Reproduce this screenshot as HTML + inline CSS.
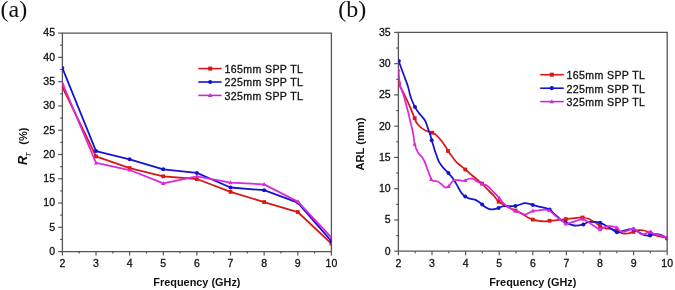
<!DOCTYPE html><html><head><meta charset="utf-8"><style>html,body{margin:0;padding:0;background:#fff;}svg{display:block;will-change:transform}</style></head><body>
<svg width="675" height="290" viewBox="0 0 675 290">
<rect width="675" height="290" fill="#fff"/>
<g font-family='"Liberation Sans", sans-serif'>
<path d="M62.4 33.1 H331.4 V251.6 H62.4 Z" fill="none" stroke="#555555" stroke-width="1.3"/><path d="M58.2 251.6 H62.4" stroke="#555555" stroke-width="1.2"/><text x="55" y="254.95" text-anchor="end" font-size="10.5" fill="#111" stroke="#111" stroke-width="0.3">0</text><path d="M60.2 239.46 H62.4" stroke="#555555" stroke-width="1.2"/><path d="M58.2 227.32 H62.4" stroke="#555555" stroke-width="1.2"/><text x="55" y="230.67" text-anchor="end" font-size="10.5" fill="#111" stroke="#111" stroke-width="0.3">5</text><path d="M60.2 215.18 H62.4" stroke="#555555" stroke-width="1.2"/><path d="M58.2 203.04 H62.4" stroke="#555555" stroke-width="1.2"/><text x="55" y="206.39" text-anchor="end" font-size="10.5" fill="#111" stroke="#111" stroke-width="0.3">10</text><path d="M60.2 190.91 H62.4" stroke="#555555" stroke-width="1.2"/><path d="M58.2 178.77 H62.4" stroke="#555555" stroke-width="1.2"/><text x="55" y="182.12" text-anchor="end" font-size="10.5" fill="#111" stroke="#111" stroke-width="0.3">15</text><path d="M60.2 166.63 H62.4" stroke="#555555" stroke-width="1.2"/><path d="M58.2 154.49 H62.4" stroke="#555555" stroke-width="1.2"/><text x="55" y="157.84" text-anchor="end" font-size="10.5" fill="#111" stroke="#111" stroke-width="0.3">20</text><path d="M60.2 142.35 H62.4" stroke="#555555" stroke-width="1.2"/><path d="M58.2 130.21 H62.4" stroke="#555555" stroke-width="1.2"/><text x="55" y="133.56" text-anchor="end" font-size="10.5" fill="#111" stroke="#111" stroke-width="0.3">25</text><path d="M60.2 118.07 H62.4" stroke="#555555" stroke-width="1.2"/><path d="M58.2 105.93 H62.4" stroke="#555555" stroke-width="1.2"/><text x="55" y="109.28" text-anchor="end" font-size="10.5" fill="#111" stroke="#111" stroke-width="0.3">30</text><path d="M60.2 93.79 H62.4" stroke="#555555" stroke-width="1.2"/><path d="M58.2 81.66 H62.4" stroke="#555555" stroke-width="1.2"/><text x="55" y="85.01" text-anchor="end" font-size="10.5" fill="#111" stroke="#111" stroke-width="0.3">35</text><path d="M60.2 69.52 H62.4" stroke="#555555" stroke-width="1.2"/><path d="M58.2 57.38 H62.4" stroke="#555555" stroke-width="1.2"/><text x="55" y="60.73" text-anchor="end" font-size="10.5" fill="#111" stroke="#111" stroke-width="0.3">40</text><path d="M60.2 45.24 H62.4" stroke="#555555" stroke-width="1.2"/><path d="M58.2 33.1 H62.4" stroke="#555555" stroke-width="1.2"/><text x="55" y="36.45" text-anchor="end" font-size="10.5" fill="#111" stroke="#111" stroke-width="0.3">45</text><path d="M62.4 251.6 V255.6" stroke="#555555" stroke-width="1.2"/><text x="62.4" y="267.3" text-anchor="middle" font-size="10.5" fill="#111" stroke="#111" stroke-width="0.3">2</text><path d="M79.21 251.6 V253.6" stroke="#555555" stroke-width="1.2"/><path d="M96.03 251.6 V255.6" stroke="#555555" stroke-width="1.2"/><text x="96.03" y="267.3" text-anchor="middle" font-size="10.5" fill="#111" stroke="#111" stroke-width="0.3">3</text><path d="M112.84 251.6 V253.6" stroke="#555555" stroke-width="1.2"/><path d="M129.65 251.6 V255.6" stroke="#555555" stroke-width="1.2"/><text x="129.65" y="267.3" text-anchor="middle" font-size="10.5" fill="#111" stroke="#111" stroke-width="0.3">4</text><path d="M146.46 251.6 V253.6" stroke="#555555" stroke-width="1.2"/><path d="M163.28 251.6 V255.6" stroke="#555555" stroke-width="1.2"/><text x="163.28" y="267.3" text-anchor="middle" font-size="10.5" fill="#111" stroke="#111" stroke-width="0.3">5</text><path d="M180.09 251.6 V253.6" stroke="#555555" stroke-width="1.2"/><path d="M196.9 251.6 V255.6" stroke="#555555" stroke-width="1.2"/><text x="196.9" y="267.3" text-anchor="middle" font-size="10.5" fill="#111" stroke="#111" stroke-width="0.3">6</text><path d="M213.71 251.6 V253.6" stroke="#555555" stroke-width="1.2"/><path d="M230.53 251.6 V255.6" stroke="#555555" stroke-width="1.2"/><text x="230.53" y="267.3" text-anchor="middle" font-size="10.5" fill="#111" stroke="#111" stroke-width="0.3">7</text><path d="M247.34 251.6 V253.6" stroke="#555555" stroke-width="1.2"/><path d="M264.15 251.6 V255.6" stroke="#555555" stroke-width="1.2"/><text x="264.15" y="267.3" text-anchor="middle" font-size="10.5" fill="#111" stroke="#111" stroke-width="0.3">8</text><path d="M280.96 251.6 V253.6" stroke="#555555" stroke-width="1.2"/><path d="M297.77 251.6 V255.6" stroke="#555555" stroke-width="1.2"/><text x="297.77" y="267.3" text-anchor="middle" font-size="10.5" fill="#111" stroke="#111" stroke-width="0.3">9</text><path d="M314.59 251.6 V253.6" stroke="#555555" stroke-width="1.2"/><path d="M331.4 251.6 V255.6" stroke="#555555" stroke-width="1.2"/><text x="331.4" y="267.3" text-anchor="middle" font-size="10.5" fill="#111" stroke="#111" stroke-width="0.3">10</text>
<path d="M398.4 32.4 H667.2 V251.2 H398.4 Z" fill="none" stroke="#555555" stroke-width="1.3"/><path d="M394.2 251.2 H398.4" stroke="#555555" stroke-width="1.2"/><text x="390.6" y="254.55" text-anchor="end" font-size="10.5" fill="#111" stroke="#111" stroke-width="0.3">0</text><path d="M396.2 235.57 H398.4" stroke="#555555" stroke-width="1.2"/><path d="M394.2 219.94 H398.4" stroke="#555555" stroke-width="1.2"/><text x="390.6" y="223.29" text-anchor="end" font-size="10.5" fill="#111" stroke="#111" stroke-width="0.3">5</text><path d="M396.2 204.31 H398.4" stroke="#555555" stroke-width="1.2"/><path d="M394.2 188.69 H398.4" stroke="#555555" stroke-width="1.2"/><text x="390.6" y="192.04" text-anchor="end" font-size="10.5" fill="#111" stroke="#111" stroke-width="0.3">10</text><path d="M396.2 173.06 H398.4" stroke="#555555" stroke-width="1.2"/><path d="M394.2 157.43 H398.4" stroke="#555555" stroke-width="1.2"/><text x="390.6" y="160.78" text-anchor="end" font-size="10.5" fill="#111" stroke="#111" stroke-width="0.3">15</text><path d="M396.2 141.8 H398.4" stroke="#555555" stroke-width="1.2"/><path d="M394.2 126.17 H398.4" stroke="#555555" stroke-width="1.2"/><text x="390.6" y="129.52" text-anchor="end" font-size="10.5" fill="#111" stroke="#111" stroke-width="0.3">20</text><path d="M396.2 110.54 H398.4" stroke="#555555" stroke-width="1.2"/><path d="M394.2 94.91 H398.4" stroke="#555555" stroke-width="1.2"/><text x="390.6" y="98.26" text-anchor="end" font-size="10.5" fill="#111" stroke="#111" stroke-width="0.3">25</text><path d="M396.2 79.29 H398.4" stroke="#555555" stroke-width="1.2"/><path d="M394.2 63.66 H398.4" stroke="#555555" stroke-width="1.2"/><text x="390.6" y="67.01" text-anchor="end" font-size="10.5" fill="#111" stroke="#111" stroke-width="0.3">30</text><path d="M396.2 48.03 H398.4" stroke="#555555" stroke-width="1.2"/><path d="M394.2 32.4 H398.4" stroke="#555555" stroke-width="1.2"/><text x="390.6" y="35.75" text-anchor="end" font-size="10.5" fill="#111" stroke="#111" stroke-width="0.3">35</text><path d="M398.4 251.2 V255.2" stroke="#555555" stroke-width="1.2"/><text x="398.4" y="266.9" text-anchor="middle" font-size="10.5" fill="#111" stroke="#111" stroke-width="0.3">2</text><path d="M415.2 251.2 V253.2" stroke="#555555" stroke-width="1.2"/><path d="M432 251.2 V255.2" stroke="#555555" stroke-width="1.2"/><text x="432" y="266.9" text-anchor="middle" font-size="10.5" fill="#111" stroke="#111" stroke-width="0.3">3</text><path d="M448.8 251.2 V253.2" stroke="#555555" stroke-width="1.2"/><path d="M465.6 251.2 V255.2" stroke="#555555" stroke-width="1.2"/><text x="465.6" y="266.9" text-anchor="middle" font-size="10.5" fill="#111" stroke="#111" stroke-width="0.3">4</text><path d="M482.4 251.2 V253.2" stroke="#555555" stroke-width="1.2"/><path d="M499.2 251.2 V255.2" stroke="#555555" stroke-width="1.2"/><text x="499.2" y="266.9" text-anchor="middle" font-size="10.5" fill="#111" stroke="#111" stroke-width="0.3">5</text><path d="M516 251.2 V253.2" stroke="#555555" stroke-width="1.2"/><path d="M532.8 251.2 V255.2" stroke="#555555" stroke-width="1.2"/><text x="532.8" y="266.9" text-anchor="middle" font-size="10.5" fill="#111" stroke="#111" stroke-width="0.3">6</text><path d="M549.6 251.2 V253.2" stroke="#555555" stroke-width="1.2"/><path d="M566.4 251.2 V255.2" stroke="#555555" stroke-width="1.2"/><text x="566.4" y="266.9" text-anchor="middle" font-size="10.5" fill="#111" stroke="#111" stroke-width="0.3">7</text><path d="M583.2 251.2 V253.2" stroke="#555555" stroke-width="1.2"/><path d="M600 251.2 V255.2" stroke="#555555" stroke-width="1.2"/><text x="600" y="266.9" text-anchor="middle" font-size="10.5" fill="#111" stroke="#111" stroke-width="0.3">8</text><path d="M616.8 251.2 V253.2" stroke="#555555" stroke-width="1.2"/><path d="M633.6 251.2 V255.2" stroke="#555555" stroke-width="1.2"/><text x="633.6" y="266.9" text-anchor="middle" font-size="10.5" fill="#111" stroke="#111" stroke-width="0.3">9</text><path d="M650.4 251.2 V253.2" stroke="#555555" stroke-width="1.2"/><path d="M667.2 251.2 V255.2" stroke="#555555" stroke-width="1.2"/><text x="667.2" y="266.9" text-anchor="middle" font-size="10.5" fill="#111" stroke="#111" stroke-width="0.3">10</text>
</g>
<defs><clipPath id="ca"><rect x="62.4" y="33.1" width="269" height="218.5"/></clipPath><clipPath id="cb"><rect x="398.4" y="32.4" width="268.8" height="218.8"/></clipPath></defs>
<g clip-path="url(#ca)">
<polyline points="62.4,87 96.03,156.43 129.65,168.08 163.28,176.34 196.9,179.01 230.53,191.88 264.15,202.07 297.77,212.03 331.4,243.59" fill="none" stroke="#d81818" stroke-width="1.8" stroke-linejoin="round"/><rect x="60.5" y="85.1" width="3.8" height="3.8" fill="#d81818"/><rect x="94.12" y="154.53" width="3.8" height="3.8" fill="#d81818"/><rect x="127.75" y="166.18" width="3.8" height="3.8" fill="#d81818"/><rect x="161.38" y="174.44" width="3.8" height="3.8" fill="#d81818"/><rect x="195" y="177.11" width="3.8" height="3.8" fill="#d81818"/><rect x="228.62" y="189.98" width="3.8" height="3.8" fill="#d81818"/><rect x="262.25" y="200.17" width="3.8" height="3.8" fill="#d81818"/><rect x="295.88" y="210.13" width="3.8" height="3.8" fill="#d81818"/><rect x="329.5" y="241.69" width="3.8" height="3.8" fill="#d81818"/>
<polyline points="62.4,68.06 96.03,151.09 129.65,159.34 163.28,169.3 196.9,172.94 230.53,187.51 264.15,190.18 297.77,202.56 331.4,241.16" fill="none" stroke="#1414d0" stroke-width="1.8" stroke-linejoin="round"/><circle cx="62.4" cy="68.06" r="2" fill="#1414d0"/><circle cx="96.03" cy="151.09" r="2" fill="#1414d0"/><circle cx="129.65" cy="159.34" r="2" fill="#1414d0"/><circle cx="163.28" cy="169.3" r="2" fill="#1414d0"/><circle cx="196.9" cy="172.94" r="2" fill="#1414d0"/><circle cx="230.53" cy="187.51" r="2" fill="#1414d0"/><circle cx="264.15" cy="190.18" r="2" fill="#1414d0"/><circle cx="297.77" cy="202.56" r="2" fill="#1414d0"/><circle cx="331.4" cy="241.16" r="2" fill="#1414d0"/>
<polyline points="62.4,83.11 96.03,162.99 129.65,170.03 163.28,183.38 196.9,176.34 230.53,182.65 264.15,184.35 297.77,201.59 331.4,237.52" fill="none" stroke="#dc28dc" stroke-width="1.8" stroke-linejoin="round"/><path d="M62.4 80.83 L64.49 84.71 L60.31 84.71 Z" fill="#dc28dc"/><path d="M96.03 160.71 L98.12 164.58 L93.94 164.58 Z" fill="#dc28dc"/><path d="M129.65 167.75 L131.74 171.62 L127.56 171.62 Z" fill="#dc28dc"/><path d="M163.28 181.1 L165.37 184.98 L161.19 184.98 Z" fill="#dc28dc"/><path d="M196.9 174.06 L198.99 177.93 L194.81 177.93 Z" fill="#dc28dc"/><path d="M230.53 180.37 L232.62 184.25 L228.44 184.25 Z" fill="#dc28dc"/><path d="M264.15 182.07 L266.24 185.95 L262.06 185.95 Z" fill="#dc28dc"/><path d="M297.77 199.31 L299.86 203.18 L295.69 203.18 Z" fill="#dc28dc"/><path d="M331.4 235.24 L333.49 239.11 L329.31 239.11 Z" fill="#dc28dc"/>
</g>
<g clip-path="url(#cb)">
<path d="M398.6 83.8 C399 84.5 400.02 86.13 401 88 C401.98 89.87 403.05 91.97 404.5 95 C405.95 98.03 408.03 102.37 409.7 106.2 C411.37 110.03 413.27 115.1 414.5 118 C415.73 120.9 415.95 121.95 417.1 123.6 C418.25 125.25 419.82 126.67 421.4 127.9 C422.98 129.13 424.8 130.2 426.6 131 C428.4 131.8 430.63 132.07 432.2 132.7 C433.77 133.33 434.53 133.55 436 134.8 C437.47 136.05 439.45 138.3 441 140.2 C442.55 142.1 444.13 144.4 445.3 146.2 C446.47 148 447.05 149.53 448 151 C448.95 152.47 449.63 153.18 451 155 C452.37 156.82 453.82 159.48 456.2 161.9 C458.58 164.32 462.63 167.23 465.3 169.5 C467.97 171.77 470.18 173.78 472.2 175.5 C474.22 177.22 475.75 178.45 477.4 179.8 C479.05 181.15 480.47 182.03 482.1 183.6 C483.73 185.17 485.33 187.27 487.2 189.2 C489.07 191.13 491.4 193.13 493.3 195.2 C495.2 197.27 496.7 199.92 498.6 201.6 C500.5 203.28 502.53 204.1 504.7 205.3 C506.87 206.5 509.45 207.78 511.6 208.8 C513.75 209.82 515.45 210.32 517.6 211.4 C519.75 212.48 522.7 214.23 524.5 215.3 C526.3 216.37 527.02 217.08 528.4 217.8 C529.78 218.52 531.07 219.1 532.8 219.6 C534.53 220.1 536.93 220.52 538.8 220.8 C540.67 221.08 542.2 221.3 544 221.3 C545.8 221.3 547.73 220.95 549.6 220.8 C551.47 220.65 553.27 220.6 555.2 220.4 C557.13 220.2 559.43 219.82 561.2 219.6 C562.97 219.38 563.97 219.3 565.8 219.1 C567.63 218.9 569.4 218.67 572.2 218.4 C575 218.13 579.87 217.43 582.6 217.5 C585.33 217.57 586.88 218.15 588.6 218.8 C590.32 219.45 591.78 220.82 592.9 221.4 C594.02 221.98 594.1 221.5 595.3 222.3 C596.5 223.1 598.37 225.18 600.1 226.2 C601.83 227.22 603.9 227.97 605.7 228.4 C607.5 228.83 609.03 228.42 610.9 228.8 C612.77 229.18 615.07 229.98 616.9 230.7 C618.73 231.42 620.07 232.63 621.9 233.1 C623.73 233.57 625.97 233.72 627.9 233.5 C629.83 233.28 631.63 232.37 633.5 231.8 C635.37 231.23 637.3 230.32 639.1 230.1 C640.9 229.88 642.5 230.07 644.3 230.5 C646.1 230.93 648.12 231.92 649.9 232.7 C651.68 233.48 653.75 234.68 655 235.2 C656.25 235.72 656 235.48 657.4 235.8 C658.8 236.12 661.73 236.7 663.4 237.1 C665.07 237.5 666.73 238.02 667.4 238.2" fill="none" stroke="#d81818" stroke-width="1.75" stroke-linejoin="round"/><rect x="397" y="81.7" width="3.8" height="3.8" fill="#d81818"/><rect x="412.8" y="116.3" width="3.8" height="3.8" fill="#d81818"/><rect x="430.3" y="130.8" width="3.8" height="3.8" fill="#d81818"/><rect x="446.1" y="149.1" width="3.8" height="3.8" fill="#d81818"/><rect x="463.4" y="167.6" width="3.8" height="3.8" fill="#d81818"/><rect x="480.2" y="181.7" width="3.8" height="3.8" fill="#d81818"/><rect x="496.7" y="199.7" width="3.8" height="3.8" fill="#d81818"/><rect x="513.6" y="208.6" width="3.8" height="3.8" fill="#d81818"/><rect x="530.9" y="217.7" width="3.8" height="3.8" fill="#d81818"/><rect x="547.7" y="218.9" width="3.8" height="3.8" fill="#d81818"/><rect x="563.9" y="217.2" width="3.8" height="3.8" fill="#d81818"/><rect x="580.7" y="215.6" width="3.8" height="3.8" fill="#d81818"/><rect x="598.2" y="224.3" width="3.8" height="3.8" fill="#d81818"/><rect x="615" y="228.8" width="3.8" height="3.8" fill="#d81818"/><rect x="631.6" y="229.9" width="3.8" height="3.8" fill="#d81818"/><rect x="648.1" y="230.8" width="3.8" height="3.8" fill="#d81818"/><rect x="665.3" y="236.3" width="3.8" height="3.8" fill="#d81818"/>
<path d="M398.6 61 C398.87 61.72 399.65 63.85 400.2 65.3 C400.75 66.75 401.33 68.17 401.9 69.7 C402.47 71.23 402.6 71.75 403.6 74.5 C404.6 77.25 406.82 82.78 407.9 86.2 C408.98 89.62 409.38 92.53 410.1 95 C410.82 97.47 411.38 98.98 412.2 101 C413.02 103.02 413.98 105.23 415 107.1 C416.02 108.97 417.3 110.8 418.3 112.2 C419.3 113.6 419.83 114.03 421 115.5 C422.17 116.97 424.17 118.93 425.3 121 C426.43 123.07 427.02 125.73 427.8 127.9 C428.58 130.07 429.35 131.98 430 134 C430.65 136.02 430.93 137.38 431.7 140 C432.47 142.62 433.82 147.2 434.6 149.7 C435.38 152.2 435.67 152.97 436.4 155 C437.13 157.03 437.85 159.75 439 161.9 C440.15 164.05 441.73 166.03 443.3 167.9 C444.87 169.77 446.85 171.42 448.4 173.1 C449.95 174.78 451.18 176.03 452.6 178 C454.02 179.97 455.63 182.73 456.9 184.9 C458.17 187.07 459.15 189.33 460.2 191 C461.25 192.67 462.35 193.97 463.2 194.9 C464.05 195.83 464.37 196.02 465.3 196.6 C466.23 197.18 467.22 197.88 468.8 198.4 C470.38 198.92 473.22 199.2 474.8 199.7 C476.38 200.2 477.07 200.62 478.3 201.4 C479.53 202.18 481.05 203.47 482.2 204.4 C483.35 205.33 483.98 206.22 485.2 207 C486.42 207.78 487.98 208.73 489.5 209.1 C491.02 209.47 492.78 209.4 494.3 209.2 C495.82 209 497.02 208.4 498.6 207.9 C500.18 207.4 501.93 206.48 503.8 206.2 C505.67 205.92 507.87 206.23 509.8 206.2 C511.73 206.17 513.67 206.28 515.4 206 C517.13 205.72 518.68 204.97 520.2 204.5 C521.72 204.03 522.92 203.32 524.5 203.2 C526.08 203.08 528.32 203.52 529.7 203.8 C531.08 204.08 531.28 204.43 532.8 204.9 C534.32 205.37 536.8 206.1 538.8 206.6 C540.8 207.1 543 207.4 544.8 207.9 C546.6 208.4 548.17 208.73 549.6 209.6 C551.03 210.47 552.03 211.87 553.4 213.1 C554.77 214.33 556.35 215.72 557.8 217 C559.25 218.28 560.85 219.9 562.1 220.8 C563.35 221.7 563.9 221.8 565.3 222.4 C566.7 223 568.77 223.85 570.5 224.4 C572.23 224.95 573.55 225.7 575.7 225.7 C577.85 225.7 581.38 224.98 583.4 224.4 C585.42 223.82 586.35 222.63 587.8 222.2 C589.25 221.77 590.85 221.85 592.1 221.8 C593.35 221.75 593.97 221.73 595.3 221.9 C596.63 222.07 598.52 222.3 600.1 222.8 C601.68 223.3 603.15 224.03 604.8 224.9 C606.45 225.77 607.98 226.77 610 228 C612.02 229.23 614.98 231.73 616.9 232.3 C618.82 232.87 619.67 231.85 621.5 231.4 C623.33 230.95 625.9 229.97 627.9 229.6 C629.9 229.23 631.63 228.77 633.5 229.2 C635.37 229.63 637.3 231.2 639.1 232.2 C640.9 233.2 642.47 234.65 644.3 235.2 C646.13 235.75 648.2 235.68 650.1 235.5 C652 235.32 653.9 234.2 655.7 234.1 C657.5 234 658.95 234.18 660.9 234.9 C662.85 235.62 666.32 237.82 667.4 238.4" fill="none" stroke="#1414d0" stroke-width="1.75" stroke-linejoin="round"/><circle cx="398.9" cy="61" r="2" fill="#1414d0"/><circle cx="415" cy="107.1" r="2" fill="#1414d0"/><circle cx="431.7" cy="140.2" r="2" fill="#1414d0"/><circle cx="448.4" cy="173.1" r="2" fill="#1414d0"/><circle cx="465.3" cy="196.6" r="2" fill="#1414d0"/><circle cx="482.2" cy="204.4" r="2" fill="#1414d0"/><circle cx="498.6" cy="207.9" r="2" fill="#1414d0"/><circle cx="515.4" cy="206" r="2" fill="#1414d0"/><circle cx="532.8" cy="204.9" r="2" fill="#1414d0"/><circle cx="549.6" cy="209.6" r="2" fill="#1414d0"/><circle cx="565.6" cy="222.4" r="2" fill="#1414d0"/><circle cx="583.4" cy="224.4" r="2" fill="#1414d0"/><circle cx="600.1" cy="222.8" r="2" fill="#1414d0"/><circle cx="616.9" cy="232.3" r="2" fill="#1414d0"/><circle cx="633.5" cy="229.2" r="2" fill="#1414d0"/><circle cx="650.1" cy="235.5" r="2" fill="#1414d0"/><circle cx="667.2" cy="238.4" r="2" fill="#1414d0"/>
<path d="M398.5 69.7 C398.57 70.58 398.77 73.28 398.9 75 C399.03 76.72 399.08 78.13 399.3 80 C399.52 81.87 399.55 83.87 400.2 86.2 C400.85 88.53 402.13 90.67 403.2 94 C404.27 97.33 405.65 102.7 406.6 106.2 C407.55 109.7 408.35 112.7 408.9 115 C409.45 117.3 409.4 117.85 409.9 120 C410.4 122.15 411.32 125.4 411.9 127.9 C412.48 130.4 412.93 132.3 413.4 135 C413.87 137.7 413.97 141.23 414.7 144.1 C415.43 146.97 416.67 150.13 417.8 152.2 C418.93 154.27 420.47 155.15 421.5 156.5 C422.53 157.85 423.03 158.25 424 160.3 C424.97 162.35 426.32 166.23 427.3 168.8 C428.28 171.37 429.23 173.95 429.9 175.7 C430.57 177.45 430.68 178.4 431.3 179.3 C431.92 180.2 432.5 180.73 433.6 181.1 C434.7 181.47 436.47 180.87 437.9 181.5 C439.33 182.13 440.97 183.9 442.2 184.9 C443.43 185.9 444.22 187.28 445.3 187.5 C446.38 187.72 447.63 187.07 448.7 186.2 C449.77 185.33 450.77 183.3 451.7 182.3 C452.63 181.3 453.05 180.55 454.3 180.2 C455.55 179.85 457.77 180.07 459.2 180.2 C460.63 180.33 461.88 180.98 462.9 181 C463.92 181.02 464.03 180.72 465.3 180.3 C466.57 179.88 468.92 178.58 470.5 178.5 C472.08 178.42 473.73 179.28 474.8 179.8 C475.87 180.32 475.68 180.9 476.9 181.6 C478.12 182.3 480.38 183.3 482.1 184 C483.82 184.7 485.48 184.65 487.2 185.8 C488.92 186.95 490.82 189.33 492.4 190.9 C493.98 192.47 495.53 193.95 496.7 195.2 C497.87 196.45 498.22 197 499.4 198.4 C500.58 199.8 502.07 202.02 503.8 203.6 C505.53 205.18 507.87 206.67 509.8 207.9 C511.73 209.13 513.53 210.13 515.4 211 C517.27 211.87 519.4 212.5 521 213.1 C522.6 213.7 523.62 214.67 525 214.6 C526.38 214.53 528 213.32 529.3 212.7 C530.6 212.08 531.37 211.27 532.8 210.9 C534.23 210.53 536.03 210.72 537.9 210.5 C539.77 210.28 542.13 209.6 544 209.6 C545.87 209.6 547.53 209.78 549.1 210.5 C550.67 211.22 551.95 212.68 553.4 213.9 C554.85 215.12 556.22 216.57 557.8 217.8 C559.38 219.03 561.57 220.28 562.9 221.3 C564.23 222.32 564.25 223.75 565.8 223.9 C567.35 224.05 570.27 222.77 572.2 222.2 C574.13 221.63 575.67 221 577.4 220.5 C579.13 220 580.87 218.98 582.6 219.2 C584.33 219.42 586.22 220.87 587.8 221.8 C589.38 222.73 590.85 223.98 592.1 224.8 C593.35 225.62 593.97 225.88 595.3 226.7 C596.63 227.52 598.52 229.63 600.1 229.7 C601.68 229.77 603.15 227.68 604.8 227.1 C606.45 226.52 607.98 226.13 610 226.2 C612.02 226.27 615.2 226.65 616.9 227.5 C618.6 228.35 618.8 230.65 620.2 231.3 C621.6 231.95 623.08 231.82 625.3 231.4 C627.52 230.98 631.33 228.67 633.5 228.8 C635.67 228.93 636.93 231.27 638.3 232.2 C639.67 233.13 640.53 234.18 641.7 234.4 C642.87 234.62 643.82 233.92 645.3 233.5 C646.78 233.08 649.02 231.73 650.6 231.9 C652.18 232.07 653.08 233.92 654.8 234.5 C656.52 235.08 658.8 234.82 660.9 235.4 C663 235.98 666.32 237.57 667.4 238" fill="none" stroke="#dc28dc" stroke-width="1.75" stroke-linejoin="round"/><path d="M398.6 67.72 L400.69 71.6 L396.51 71.6 Z" fill="#dc28dc"/><path d="M414.7 141.82 L416.79 145.7 L412.61 145.7 Z" fill="#dc28dc"/><path d="M431.3 177.22 L433.39 181.1 L429.21 181.1 Z" fill="#dc28dc"/><path d="M448.7 184.12 L450.79 188 L446.61 188 Z" fill="#dc28dc"/><path d="M465.3 178.22 L467.39 182.1 L463.21 182.1 Z" fill="#dc28dc"/><path d="M482.1 181.72 L484.19 185.6 L480.01 185.6 Z" fill="#dc28dc"/><path d="M499.4 196.12 L501.49 200 L497.31 200 Z" fill="#dc28dc"/><path d="M515.4 208.72 L517.49 212.6 L513.31 212.6 Z" fill="#dc28dc"/><path d="M532.8 208.62 L534.89 212.5 L530.71 212.5 Z" fill="#dc28dc"/><path d="M549.1 208.22 L551.19 212.1 L547.01 212.1 Z" fill="#dc28dc"/><path d="M565.8 221.62 L567.89 225.5 L563.71 225.5 Z" fill="#dc28dc"/><path d="M582.6 216.92 L584.69 220.8 L580.51 220.8 Z" fill="#dc28dc"/><path d="M600.1 227.42 L602.19 231.3 L598.01 231.3 Z" fill="#dc28dc"/><path d="M616.9 225.22 L618.99 229.1 L614.81 229.1 Z" fill="#dc28dc"/><path d="M633.5 226.52 L635.59 230.4 L631.41 230.4 Z" fill="#dc28dc"/><path d="M650.6 229.62 L652.69 233.5 L648.51 233.5 Z" fill="#dc28dc"/><path d="M667.2 235.72 L669.29 239.6 L665.11 239.6 Z" fill="#dc28dc"/>
</g>
<path d="M198.3 68.6 H221.6" stroke="#d81818" stroke-width="1.6"/><rect x="208.2" y="66.6" width="4" height="4" fill="#d81818"/><text x="224.6" y="73" font-family='"Liberation Sans", sans-serif' font-size="10.6" letter-spacing="0.36" fill="#111" stroke="#111" stroke-width="0.3">165mm SPP TL</text><path d="M198.3 82 H221.6" stroke="#1414d0" stroke-width="1.6"/><circle cx="210.2" cy="82" r="2.1" fill="#1414d0"/><text x="224.6" y="86.4" font-family='"Liberation Sans", sans-serif' font-size="10.6" letter-spacing="0.36" fill="#111" stroke="#111" stroke-width="0.3">225mm SPP TL</text><path d="M198.3 95.4 H221.6" stroke="#c030c8" stroke-width="1.6"/><path d="M210.2 93 L212.4 97.08 L208 97.08 Z" fill="#c030c8"/><text x="224.6" y="99.8" font-family='"Liberation Sans", sans-serif' font-size="10.6" letter-spacing="0.36" fill="#111" stroke="#111" stroke-width="0.3">325mm SPP TL</text>
<path d="M540.2 74.7 H563.7" stroke="#d81818" stroke-width="1.6"/><rect x="549.8" y="72.7" width="4" height="4" fill="#d81818"/><text x="566.6" y="79.1" font-family='"Liberation Sans", sans-serif' font-size="10.6" letter-spacing="0.36" fill="#111" stroke="#111" stroke-width="0.3">165mm SPP TL</text><path d="M540.2 88.2 H563.7" stroke="#1414d0" stroke-width="1.6"/><circle cx="551.8" cy="88.2" r="2.1" fill="#1414d0"/><text x="566.6" y="92.6" font-family='"Liberation Sans", sans-serif' font-size="10.6" letter-spacing="0.36" fill="#111" stroke="#111" stroke-width="0.3">225mm SPP TL</text><path d="M540.2 101.6 H563.7" stroke="#c030c8" stroke-width="1.6"/><path d="M551.8 99.2 L554 103.28 L549.6 103.28 Z" fill="#c030c8"/><text x="566.6" y="106" font-family='"Liberation Sans", sans-serif' font-size="10.6" letter-spacing="0.36" fill="#111" stroke="#111" stroke-width="0.3">325mm SPP TL</text>
<text x="196.9" y="286" text-anchor="middle" font-family='"Liberation Sans", sans-serif' font-size="10.9" font-weight="bold" fill="#111">Frequency (GHz)</text>
<text x="532.8" y="286" text-anchor="middle" font-family='"Liberation Sans", sans-serif' font-size="10.9" font-weight="bold" fill="#111">Frequency (GHz)</text>
<text transform="translate(363.6 144) rotate(-90)" text-anchor="middle" font-family='"Liberation Sans", sans-serif' font-size="11.1" font-weight="bold" fill="#111">ARL (mm)</text>
<text transform="translate(27.3 165) rotate(-90)" font-family='"Liberation Sans", sans-serif' font-size="12.8" font-weight="bold" font-style="italic" fill="#111">R</text>
<text transform="translate(31.4 157) rotate(-90)" font-family='"Liberation Sans", sans-serif' font-size="7.6" font-style="italic" fill="#111">T</text>
<text transform="translate(27.2 127.6) rotate(-90)" text-anchor="end" font-family='"Liberation Sans", sans-serif' font-size="11" font-weight="bold" fill="#111">(%)</text>
<text x="0.5" y="17" font-family='"Liberation Serif", serif' font-size="24" fill="#111">(a)</text>
<text x="338.3" y="17" font-family='"Liberation Serif", serif' font-size="24" fill="#111">(b)</text>
</svg></body></html>
